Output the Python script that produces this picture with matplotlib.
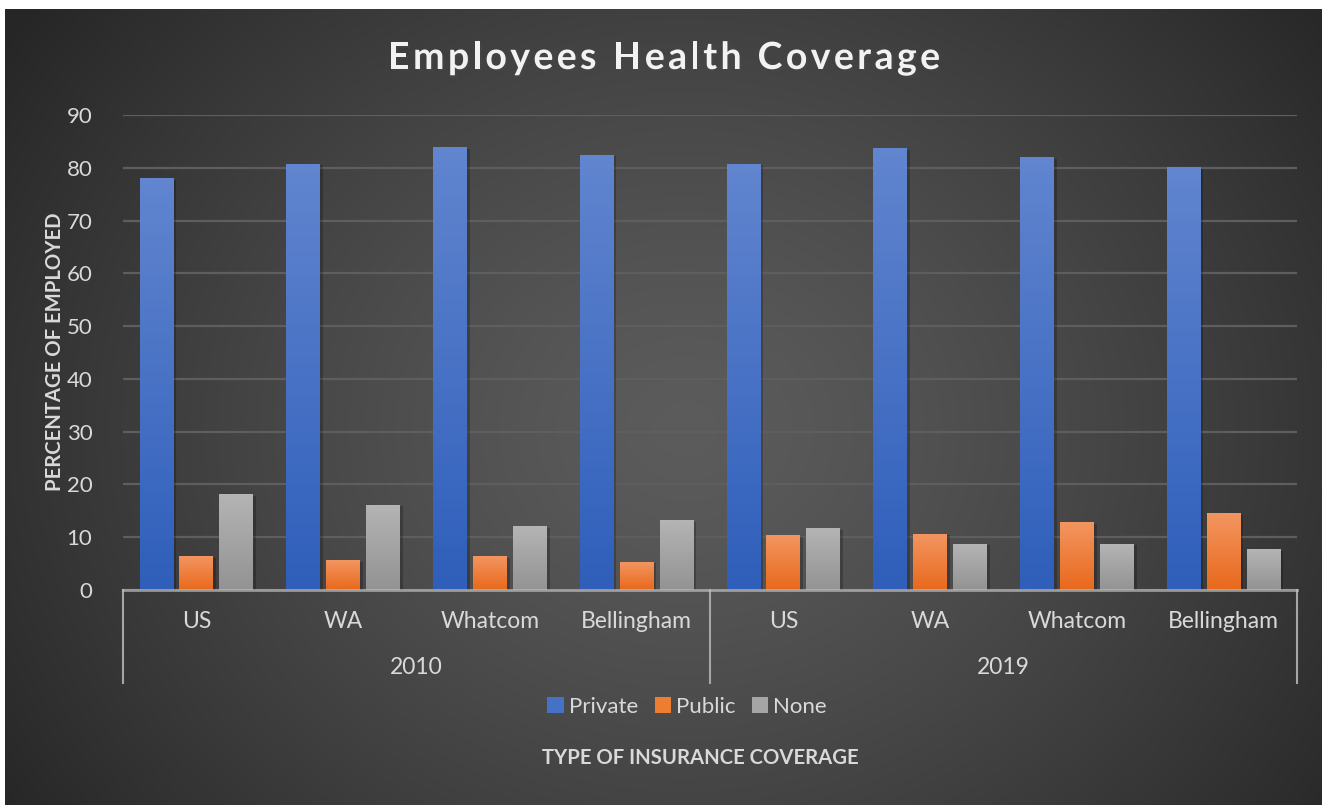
import numpy as np
import matplotlib
matplotlib.use("Agg")
import matplotlib.pyplot as plt
from matplotlib import patheffects
from matplotlib.patches import Patch
from matplotlib.colors import LinearSegmentedColormap

years = ["2010", "2019"]
places = ["US", "WA", "Whatcom", "Bellingham"]
series = ["Private", "Public", "None"]
private = [77.9, 80.7, 83.9, 82.4, 80.7, 83.7, 81.9, 80.1]
public = [6.3, 5.5, 6.3, 5.3, 10.4, 10.6, 12.7, 14.4]
none = [18.0, 16.1, 12.1, 13.1, 11.6, 8.7, 8.7, 7.6]

# top / bottom colours of each series gradient
grad = {
    "Private": ("#6185cf", "#2f5fbb"),
    "Public": ("#f39560", "#e8691c"),
    "None": ("#b4b4b4", "#939393"),
}
solid = {"Private": "#4472c4", "Public": "#ed7d31", "None": "#a5a5a5"}

plt.rcParams["font.family"] = ["Lato", "DejaVu Sans"]
txt = "#d9d9d9"

W, H = 1322, 805
fig = plt.figure(figsize=(W / 100, H / 100), dpi=100, facecolor="white")

# dark radial background
bg = fig.add_axes([5 / W, 0, (W - 5) / W, (H - 9) / H])
bg.set_axis_off()
yy, xx = np.mgrid[0:H - 9, 0:W - 5]
r = np.hypot((xx - 680) / 1.0, (yy - 420) / 0.85) / 820
r = np.clip(r, 0, 1)
shade = 0.36 - 0.21 * r ** 1.3
bg.imshow(np.dstack([shade] * 3), aspect="auto", extent=[0, 1, 0, 1])
bg.set_xlim(0, 1)
bg.set_ylim(0, 1)

ax = fig.add_axes([123 / W, (H - 590) / H, (1297 - 123) / W, (590 - 115) / H])
ax.patch.set_alpha(0)
ax.set_xlim(-0.5, 7.5)
ax.set_ylim(0, 90)
ax.set_yticks(range(0, 91, 10))
ax.yaxis.grid(True, color="#5e5e5e", linewidth=1.6)
ax.set_axisbelow(True)
ax.tick_params(axis="y", length=0, labelsize=16, labelcolor=txt, pad=22)
ax.set_xticks([])
for s in ax.spines.values():
    s.set_visible(False)

x = np.arange(len(private))
bw = 0.231
step = 0.272
shadow = [patheffects.SimplePatchShadow(offset=(2, -1), shadow_rgbFace="black", alpha=0.22),
          patheffects.Normal()]
for i, (name, vals) in enumerate(zip(series, [private, public, none])):
    bars = ax.bar(x + (i - 1) * step, vals, bw, color=solid[name], zorder=3)
    cmap = LinearSegmentedColormap.from_list(name, [grad[name][1], grad[name][0]])
    for p in bars.patches:
        p.set_path_effects(shadow)
        x0, y0, w, h = p.get_x(), p.get_y(), p.get_width(), p.get_height()
        ax.imshow(np.linspace(0, 1, 64).reshape(-1, 1), cmap=cmap, origin="lower",
                  extent=[x0, x0 + w, y0, y0 + h], aspect="auto", zorder=4)
ax.set_xlim(-0.5, 7.5)
ax.set_ylim(0, 90)

# category axis with two levels
trans = ax.get_xaxis_transform()
ax.plot([-0.5, 7.5], [0, 0], color="#bfbfbf", alpha=0.7, lw=2, zorder=5,
        transform=trans, clip_on=False)
for xv in [-0.5, 3.5, 7.5]:
    ax.plot([xv, xv], [0, -0.196], color="#a6a6a6", lw=1.5, transform=trans, clip_on=False)
for k, xv in enumerate(x):
    ax.text(xv, -0.067, places[k % 4], ha="center", va="center", fontsize=16.5,
            color=txt, transform=trans)
for k, yr in enumerate(years):
    ax.text(1.5 + 4 * k, -0.164, yr, ha="center", va="center", fontsize=16.5,
            color=txt, transform=trans)

# letter-spaced title, placed one character at a time
title = "Employees Health Coverage"
tkw = dict(fontsize=27, fontweight="bold", color="#f2f2f2", va="center")
spacing = 3.4
renderer = fig.canvas.get_renderer()
widths = []
for k in range(len(title) + 1):
    t = fig.text(0, 0, title[:k] if k else "", **tkw)
    widths.append(t.get_window_extent(renderer).width if k else 0.0)
    t.remove()
total = widths[-1] + spacing * (len(title) - 1)
start = 664 - total / 2
for k, ch in enumerate(title):
    if ch == " ":
        continue
    t = fig.text((start + widths[k] + spacing * k) / W, 1 - 58 / H, ch, ha="left", **tkw)
    t.set_path_effects([patheffects.withSimplePatchShadow(offset=(1.5, -1.5), alpha=0.45)])

fig.text(55 / W, 1 - 352 / H, "PERCENTAGE OF EMPLOYED", rotation=90, ha="center",
         va="center", fontsize=14.6, fontweight="bold", color=txt)
fig.text(700 / W, 1 - 758 / H, "TYPE OF INSURANCE COVERAGE", ha="center", va="center",
         fontsize=14.6, fontweight="bold", color=txt)

handles = [Patch(facecolor=solid[n], label=n) for n in series]
fig.legend(handles=handles, loc="center", bbox_to_anchor=(687 / W, 1 - 707 / H), ncol=3,
           frameon=False, fontsize=16, labelcolor=txt, handlelength=0.75, handleheight=0.75,
           handletextpad=0.2, columnspacing=0.75)

fig.savefig("out.png", dpi=100)
